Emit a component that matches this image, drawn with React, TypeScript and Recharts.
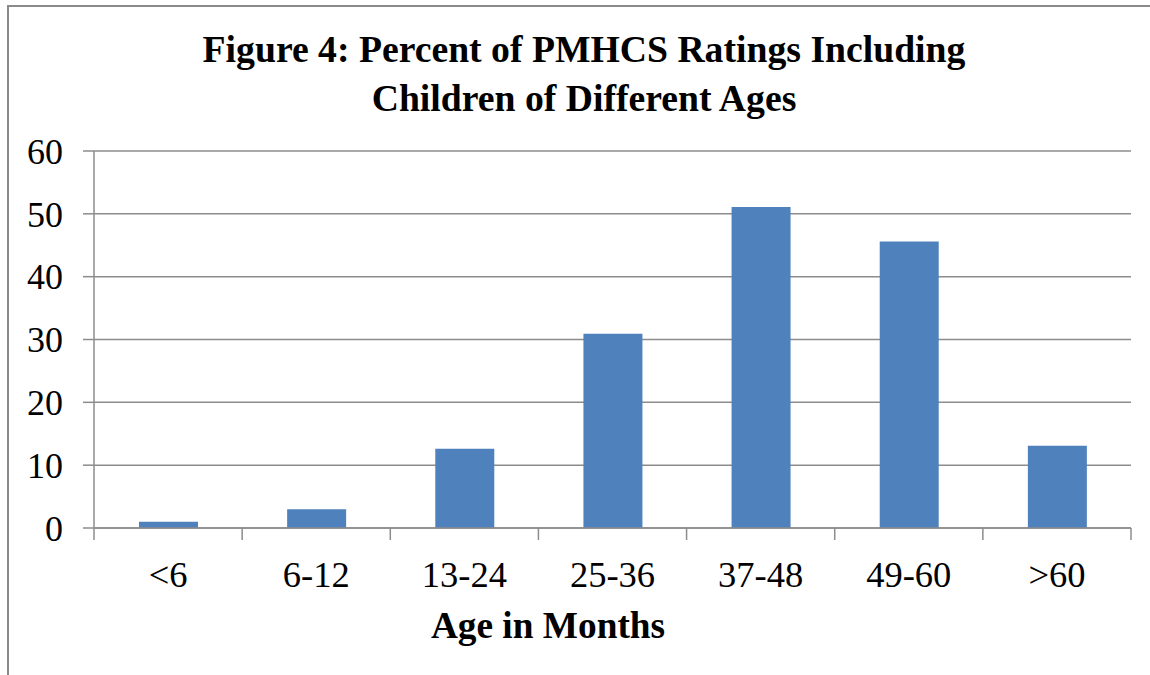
import React from "react";
import { BarChart, Bar, XAxis, YAxis, CartesianGrid } from "recharts";

const categories = ["<6", "6-12", "13-24", "25-36", "37-48", "49-60", ">60"];
const percentValues = [1.0, 3.0, 12.6, 30.9, 51.1, 45.6, 13.1];
const yTicks = [0, 10, 20, 30, 40, 50, 60];
const titleLines = ["Figure 4: Percent of PMHCS Ratings Including", "Children of Different Ages"];
const xAxisTitle = "Age in Months";

const data = categories.map((c, i) => ({ name: c, value: percentValues[i] }));

const W = 1150;
const H = 675;
const MARGIN = { top: 151, right: 19, left: 0, bottom: 87 };
const Y_AXIS_W = 94;
const PLOT_W = W - MARGIN.left - MARGIN.right - Y_AXIS_W;
const BAND = PLOT_W / categories.length;
const GRID = "#8c8c8c";
const FONT = "'Liberation Serif', 'Times New Roman', serif";

const XTick = (props: any) => {
  const { x, y, payload, index } = props;
  const half = BAND / 2;
  return (
    <g>
      <line x1={x - half} x2={x - half} y1={y} y2={y + 12} stroke={GRID} strokeWidth={1.5} />
      {index === categories.length - 1 && (
        <line x1={x + half} x2={x + half} y1={y} y2={y + 12} stroke={GRID} strokeWidth={1.5} />
      )}
      <text x={x} y={y + 59} textAnchor="middle" fontFamily={FONT} fontSize={36.5} fill="#000">
        {payload.value}
      </text>
    </g>
  );
};

export default function App() {
  return (
    <div style={{ position: "absolute", left: 0, top: 0, width: W, height: H, background: "#fff" }}>
      <div
        style={{
          position: "absolute",
          left: 7,
          top: 5,
          width: W,
          height: H,
          borderLeft: "2px solid #8a8a8a",
          borderTop: "2px solid #8a8a8a",
          boxSizing: "border-box",
        }}
      />
      <BarChart width={W} height={H} data={data} margin={MARGIN}>
        <CartesianGrid vertical={false} stroke={GRID} strokeWidth={1.5} />
        <XAxis
          dataKey="name"
          height={60}
          axisLine={{ stroke: GRID, strokeWidth: 1.5 }}
          tickLine={false}
          tickSize={0}
          tickMargin={0}
          tick={<XTick />}
          interval={0}
        />
        <YAxis
          width={Y_AXIS_W}
          domain={[0, 60]}
          ticks={yTicks}
          interval={0}
          axisLine={{ stroke: GRID, strokeWidth: 1.5 }}
          tickLine={{ stroke: GRID, strokeWidth: 1.5 }}
          tickSize={11}
          tickMargin={20}
          tick={{ fontFamily: FONT, fontSize: 36, fill: "#000" }}
        />
        <Bar dataKey="value" fill="#4f81bd" barSize={59} isAnimationActive={false} />
      </BarChart>
      <svg
        width={W}
        height={H}
        style={{ position: "absolute", left: 0, top: 0, pointerEvents: "none" }}
      >
        <text x={584} y={62} textAnchor="middle" fontFamily={FONT} fontSize={37.7} fontWeight="bold" fill="#000">
          {titleLines[0]}
        </text>
        <text x={584} y={111} textAnchor="middle" fontFamily={FONT} fontSize={37.7} fontWeight="bold" fill="#000">
          {titleLines[1]}
        </text>
        <text x={548} y={638} textAnchor="middle" fontFamily={FONT} fontSize={37.3} fontWeight="bold" fill="#000">
          {xAxisTitle}
        </text>
      </svg>
    </div>
  );
}
